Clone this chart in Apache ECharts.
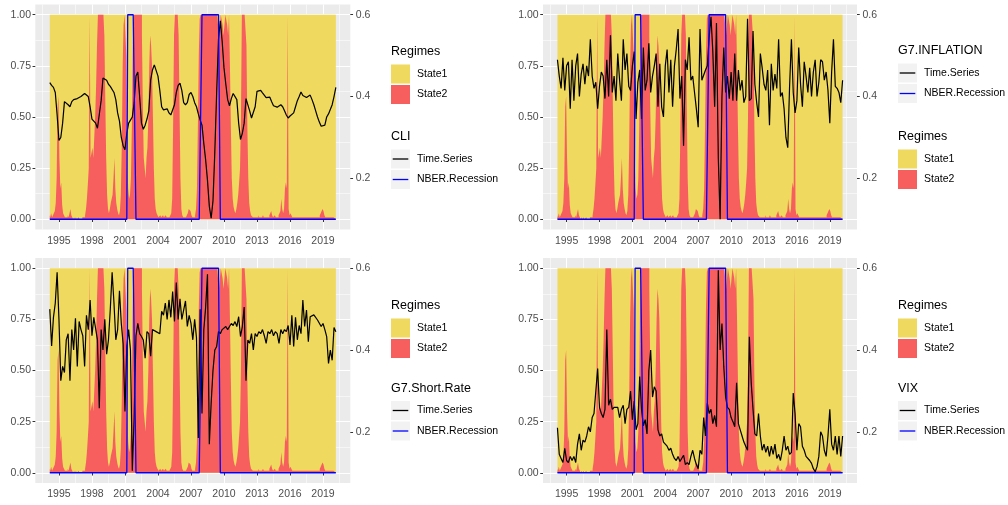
<!DOCTYPE html>
<html>
<head>
<meta charset="utf-8">
<script src="https://cdn.jsdelivr.net/npm/echarts@6/dist/echarts.min.js"></script>
<style>
  html, body { margin: 0; padding: 0; background: #fff; }
  #chart { width: 1008px; height: 505px; }
</style>
</head>
<body>
<div id="chart"></div>
<script>
// State2 probability, monthly from Mar 1994 to Mar 2020 (State1 = 1 - State2)
var state2 = [
  .02, .01, .03, .01, .02, .02, .04, .08, .2, .55,              // 1994 (Mar-Dec)
  .6, .3, .15, .18, .07, .03, .02, .01, .01, .01, .02, .01,    // 1995
  .03, .05, .02, .01, 0, .01, 0, .01, 0, 0, .01, 0,            // 1996
  0, 0, .01, .01, .01, .02, .05, .1, .17, .25, 1, .3,          // 1997
  .3, .35, .3, .4, .5, .65, .85, 1, 1, 1, 1, 1,                // 1998
  1, 1, .9, .6, .3, .12, .05, .03, .05, .08, .1, .12,          // 1999
  .2, .3, .15, .08, .05, .03, .02, .04, .12, .35, .75, .95,    // 2000
  1, 1, .8, .3, .15, .1, .12, .2, .45, .85, 1, 1,              // 2001
  1, 1, 1, 1, 1, 1, 1, .9, .55, .3, .25, .2,                   // 2002
  .3, .35, .5, .75, .9, .85, .75, .5, .25, .1, .05, .03,       // 2003
  .02, .01, .01, .02, .01, .01, .02, .01, .01, .02, .01, .01,  // 2004
  .01, .01, .02, .03, .1, .45, .9, 1, 1, 1, 1, .9,             // 2005
  .55, .2, .05, .02, .01, .01, .01, .01, .02, .03, .05, .05,   // 2006
  .04, .02, .01, .01, .01, .02, .05, .15, .45, .8, .98, 1,     // 2007
  1, 1, 1, 1, 1, 1, 1, 1, 1, 1, 1, 1,                          // 2008
  1, 1, 1, 1, 1, 1, .95, .9, .95, 1, 1, .95,                   // 2009
  .9, .95, 1, 1, .95, .9, 1, .75, .45, .2, .1, .06,            // 2010
  .04, .03, .05, .08, .12, .18, .25, .5, 1, 1, 1, 1,           // 2011
  1, .85, .45, .2, .08, .04, .02, .02, .01, .01, .01, .01,     // 2012
  .01, .01, .02, .01, .01, .01, .01, .02, .01, .01, .01, .01,  // 2013
  .01, .01, .02, .03, .04, .02, .01, .01, .02, .01, .01, .01,  // 2014
  .02, .03, .04, .1, .05, .03, .05, .15, .18, .15, 1, .05,     // 2015
  .02, .03, .02, .01, .01, .01, .01, .01, .01, .01, .01, .01,  // 2016
  .01, .01, .01, .01, .01, .01, .01, .01, .01, .01, .01, .01,  // 2017
  .01, .01, .01, .01, .01, .01, .01, .01, .01, .02, .03, .04,  // 2018
  .05, .04, .02, .01, .01, .01, .01, .01, .01, .01, .01, .01,  // 2019
  .01, .01, .01                                                // 2020 (Jan-Mar)
];

// NBER recessions as [first year, first month, last year, last month]
var nberPeriods = [[2001, 4, 2001, 12], [2008, 1, 2009, 8]];

// scaled time series, every two months from Mar 1994 to Mar 2020
var cli = [
  .668, .655, .645, .62, .51,
  .385, .40, .47, .575, .58, .56,
  .55, .575, .585, .59, .59, .597,
  .60, .608, .615, .62, .60, .55,
  .49, .48, .47, .445, .445, .58,
  .69, .69, .68, .66, .65, .645,
  .62, .585, .52, .48, .40, .36,
  .34, .42, .47, .485, .50, .57,
  .70, .72, .60, .47, .44, .46,
  .49, .53, .68, .73, .755, .75,
  .70, .63, .55, .535, .53, .54,
  .52, .51, .51, .56, .62, .655,
  .665, .63, .57, .56, .57, .61,
  .62, .60, .57, .55, .515, .485,
  .46, .37, .29, .19, .063, .005,
  .09, .33, .62, .88, .97, .87,
  .74, .66, .585, .555, .59, .615,
  .61, .585, .47, .39, .42, .47,
  .59, .595, .53, .495, .49, .55,
  .625, .632, .63, .618, .61, .595,
  .595, .597, .575, .555, .548, .548,
  .555, .56, .55, .53, .51, .495,
  .505, .51, .52, .55, .58, .60,
  .622, .605, .598, .595, .603, .607,
  .585, .56, .53, .50, .475, .455,
  .45, .46, .50, .515, .52, .56,
  .60, .645
];

var inflation = [
  .78, .70, .64, .79, .63,
  .75, .77, .54, .78, .58, .75,
  .81, .60, .71, .76, .66, .75,
  .70, .88, .70, .64, .67, .54,
  .65, .72, .70, .59, .78, .60,
  .90, .62, .70, .58, .81, .68,
  .58, .88, .73, .81, .65, .63,
  .75, .82, .49, .67, .73, .49,
  .84, .63, .68, .86, .62, .70,
  .75, .81, .55, .76, .55, .50,
  .75, .83, .62, .78, .55, .75,
  .83, .93, .59, .70, .36, .78,
  .73, .89, .68, .70, .62, .54,
  .45, .93, .68, .68, .73, .75,
  .89, .99, .82, .55, .96, .30,
  0, .60, .84, .62, .70, .59,
  .72, .58, .81, .58, .73, .63,
  .68, .57, .60, .98, .58, .59,
  .92, .66, .57, .50, .81, .74,
  .66, .63, .73, .46, .76, .63,
  .71, .64, .88, .60, .62, .54,
  .40, .35, .65, .88, .62, .52,
  .58, .84, .66, .55, .77, .70,
  .62, .74, .60, .72, .78, .60,
  .67, .78, .77, .68, .72, .63,
  .47, .72, .88, .65, .64, .62,
  .57, .68
];

var shortRate = [
  .80, .62, .76, .83, .98,
  .75, .45, .52, .49, .65, .68,
  .45, .70, .60, .755, .52, .74,
  .70, .67, .52, .77, .70, .845,
  .67, .76, .76, .65, .315, .70,
  .60, .75, .58, .65, .80, .98,
  .83, .65, .70, .89, .73, .63,
  .30, .62, .70, .60, .01, .27,
  .67, .73, .68, .666, .649, .56,
  .69, .68, .57, .70, .70, .69,
  .69, .68, .79, .77, .83, .75,
  .845, .76, .886, .74, .93, .75,
  .85, .75, .75, .84, .715, .77,
  .73, .65, .75, .66, .17, .80,
  .29, .70, .81, .97, .14, .34,
  .50, .60, .617, .69, .68, .70,
  .70, .715, .70, .715, .73, .72,
  .739, .715, .763, .666, .715, .81,
  .45, .649, .633, .68, .60, .68,
  .666, .69, .68, .70, .67, .633,
  .69, .68, .70, .67, .69, .68,
  .633, .70, .68, .70, .69, .72,
  .625, .77, .617, .76, .65, .72,
  .68, .845, .715, .796, .641, .763,
  .763, .772, .763, .747, .739, .715,
  .73, .70, .666, .535, .60, .55,
  .71, .69
];

var vix = [
  .22, .09, .07, .05, .12,
  .06, .05, .08, .06, .08, .05,
  .14, .19, .11, .16, .15, .18,
  .225, .20, .27, .29, .29, .51,
  .32, .29, .27, .31, .70, .33,
  .36, .31, .32, .32, .32, .27,
  .31, .33, .24, .31, .32, .40,
  .26, .35, .21, .24, .47, .31,
  .23, .26, .19, .50, .60, .37,
  .42, .40, .21, .18, .19, .15,
  .14, .13, .11, .12, .09, .07,
  .06, .08, .055, .06, .086, .04,
  .05, .04, .08, .11, .07, .04,
  .02, .11, .09, .27, .18, .34,
  .29, .31, .24, .28, .225, .99,
  .60, .73, .52, .37, .32, .31,
  .27, .25, .225, .44, .24, .21,
  .18, .15, .13, .11, .665, .44,
  .31, .19, .18, .29, .18, .11,
  .14, .10, .13, .08, .13, .09,
  .14, .07, .09, .06, .11, .18,
  .11, .13, .09, .10, .39, .29,
  .11, .24, .225, .13, .11, .08,
  .08, .06, .046, .02, .005, .03,
  .08, .20, .18, .11, .08, .18,
  .31, .14, .11, .18, .09, .18,
  .08, .18
];

var yearTicks = [1995, 1998, 2001, 2004, 2007, 2010, 2013, 2016, 2019];
var yearMinor = [1993.5, 1996.5, 1999.5, 2002.5, 2005.5, 2008.5, 2011.5, 2014.5, 2017.5, 2020.5];
var probTicks = [0, 0.25, 0.5, 0.75, 1];
var probMinor = [0.125, 0.375, 0.625, 0.875];
var secTicks = [0.2, 0.4, 0.6];

var FONT = '"Liberation Sans", Arial, Helvetica, sans-serif';
var YELLOW = '#EFD95F';
var RED = '#F75E5E';

// month grids (decimal years)
var regimeX = state2.map(function (v, i) { return 1994 + (2 + i) / 12; });
var seriesX = cli.map(function (v, i) { return 1994 + (2 + 2 * i) / 12; });
var nber = regimeX.map(function (x) {
  return nberPeriods.some(function (p) {
    return x >= p[0] + (p[1] - 1) / 12 - 1e-6 && x <= p[2] + (p[3] - 1) / 12 + 1e-6;
  }) ? 1 : 0;
});
// stacked regimes: State2 at the bottom, State1 on top of it
var state1 = state2.map(function (v) { return 1 - v; });
var state1Top = state2.map(function (v, k) { return v + state1[k]; });

function pairs(xs, ys) {
  return ys.map(function (y, i) { return [xs[i], y]; });
}

var panels = [
  {name: 'CLI', values: cli, left: 35.3, top: 4.5, width: 315, legendX: 391,
    order: [['regimes', 52], ['series', 137]]},
  {name: 'G7.INFLATION', values: inflation, left: 543, top: 4.5, width: 314, legendX: 898,
    order: [['series', 51], ['regimes', 137]]},
  {name: 'G7.Short.Rate', values: shortRate, left: 35.3, top: 258, width: 315, legendX: 391,
    order: [['regimes', 306], ['series', 388.5]]},
  {name: 'VIX', values: vix, left: 543, top: 258, width: 314, legendX: 898,
    order: [['regimes', 306], ['series', 388.5]]}
];

var tickStyle = {color: '#333333', width: 1};
var labelBase = {color: '#4D4D4D', fontSize: 10.5, fontFamily: FONT};

function legendGroup(x0, ty, title, kind) {
  var els = [{
    type: 'text', x: x0, y: ty,
    style: {text: title, fill: '#000', font: '12.5px ' + FONT, verticalAlign: 'middle'}
  }];
  var names = kind === 'regimes' ? ['State1', 'State2'] : ['Time.Series', 'NBER.Recession'];
  var colors = kind === 'regimes' ? [YELLOW, RED] : ['#000000', '#0000FF'];
  [0, 1].forEach(function (k) {
    var top = ty + 12.5 + k * 20.5;
    if (kind === 'regimes') {
      els.push({type: 'rect', shape: {x: x0, y: top, width: 19, height: 19}, style: {fill: colors[k]}});
    } else {
      els.push({type: 'rect', shape: {x: x0, y: top, width: 19, height: 19}, style: {fill: '#F2F2F2'}});
      els.push({type: 'line', shape: {x1: x0 + 1.7, y1: top + 9.5, x2: x0 + 17.3, y2: top + 9.5},
        style: {stroke: colors[k], lineWidth: 1.3}});
    }
    els.push({
      type: 'text', x: x0 + 26, y: top + 9.5,
      style: {text: names[k], fill: '#000', font: '10.5px ' + FONT, verticalAlign: 'middle'}
    });
  });
  return els;
}

var option = {
  animation: false,
  backgroundColor: '#ffffff',
  grid: [], xAxis: [], yAxis: [], series: [], graphic: []
};

panels.forEach(function (p, i) {
  option.grid.push({
    left: p.left, top: p.top, width: p.width, height: 225,
    show: true, backgroundColor: '#EBEBEB', borderWidth: 0, outerBoundsMode: 'none'
  });

  // x: major axis with labels, minor one only for grid lines
  option.xAxis.push({
    type: 'value', gridIndex: i, min: 1992.85, max: 2021.48, position: 'bottom',
    axisLine: {show: false},
    axisTick: {show: true, length: 2.75, lineStyle: tickStyle, customValues: yearTicks},
    axisLabel: Object.assign({margin: 6, customValues: yearTicks,
      formatter: function (v) { return String(Math.round(v)); }}, labelBase),
    splitLine: {show: true, lineStyle: {color: '#FFFFFF', width: 1.1}}
  });
  option.xAxis.push({
    type: 'value', gridIndex: i, min: 1992.85, max: 2021.48, position: 'bottom',
    axisLine: {show: false}, axisLabel: {show: false},
    axisTick: {show: false, customValues: yearMinor},
    splitLine: {show: true, lineStyle: {color: '#FFFFFF', width: 0.55}}
  });

  // y: probability axis (left), its minor grid, and the secondary axis (right)
  option.yAxis.push({
    type: 'value', gridIndex: i, min: -0.05, max: 1.05, position: 'left',
    axisLine: {show: false},
    axisTick: {show: true, length: 2.75, lineStyle: tickStyle, customValues: probTicks},
    axisLabel: Object.assign({margin: 4.3, customValues: probTicks,
      formatter: function (v) { return v.toFixed(2); }}, labelBase),
    splitLine: {show: true, lineStyle: {color: '#FFFFFF', width: 1.1}}
  });
  option.yAxis.push({
    type: 'value', gridIndex: i, min: -0.05, max: 1.05, position: 'left',
    axisLine: {show: false}, axisLabel: {show: false},
    axisTick: {show: false, customValues: probMinor},
    splitLine: {show: true, lineStyle: {color: '#FFFFFF', width: 0.55}}
  });
  option.yAxis.push({
    type: 'value', gridIndex: i, min: 0.075, max: 0.625, position: 'right',
    axisLine: {show: false},
    axisTick: {show: true, length: 2.75, lineStyle: tickStyle, customValues: secTicks},
    axisLabel: Object.assign({margin: 5.5, customValues: secTicks,
      formatter: function (v) { return v.toFixed(1); }}, labelBase),
    splitLine: {show: false}
  });

  var xi = 2 * i, yi = 3 * i;
  option.series.push({
    name: 'State1', type: 'line', xAxisIndex: xi, yAxisIndex: yi,
    data: pairs(regimeX, state1Top), step: 'middle',
    symbol: 'none', lineStyle: {width: 0}, areaStyle: {color: YELLOW, opacity: 1, origin: 'auto'}, silent: true
  });
  option.series.push({
    name: 'State2', type: 'line', xAxisIndex: xi, yAxisIndex: yi,
    data: pairs(regimeX, state2), step: 'middle',
    symbol: 'none', lineStyle: {width: 0}, areaStyle: {color: RED, opacity: 1, origin: 'auto'}, silent: true
  });
  option.series.push({
    name: 'Time.Series', type: 'line', xAxisIndex: xi, yAxisIndex: yi,
    data: pairs(seriesX, p.values), symbol: 'none',
    lineStyle: {color: '#000000', width: 1.2}, silent: true
  });
  option.series.push({
    name: 'NBER.Recession', type: 'line', xAxisIndex: xi, yAxisIndex: yi,
    data: pairs(regimeX, nber), symbol: 'none',
    lineStyle: {color: '#0000FF', width: 1.3}, silent: true
  });

  p.order.forEach(function (g) {
    var title = g[0] === 'regimes' ? 'Regimes' : p.name;
    option.graphic = option.graphic.concat(legendGroup(p.legendX, g[1], title, g[0]));
  });
});

var chart = echarts.init(document.getElementById('chart'), null, {renderer: 'canvas'});
chart.setOption(option);
</script>
</body>
</html>
